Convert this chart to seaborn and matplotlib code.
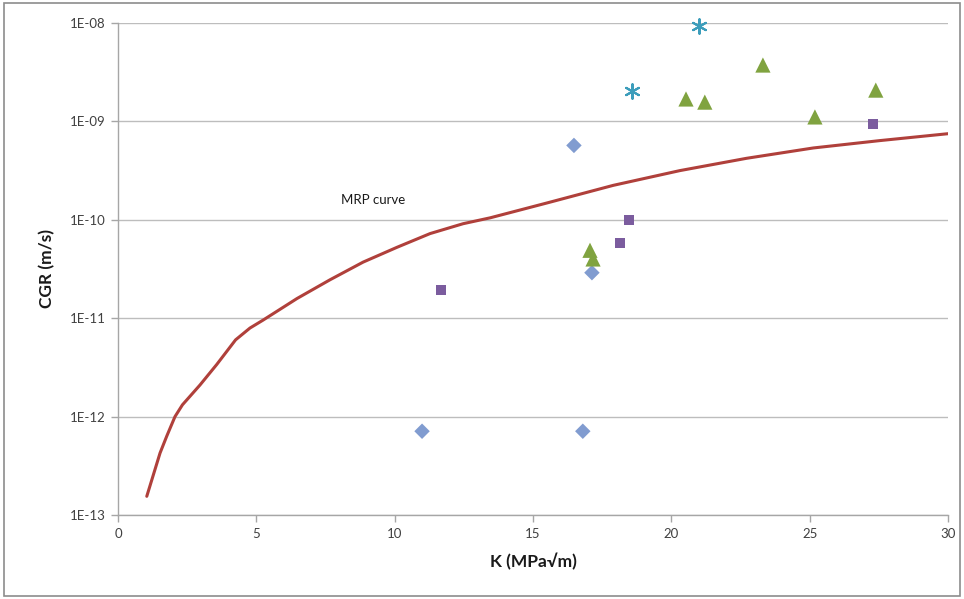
import numpy as np
import pandas as pd
import matplotlib
matplotlib.use("Agg")
import matplotlib.pyplot as plt
import seaborn as sns
from matplotlib.patches import Rectangle
from matplotlib.ticker import FixedLocator, FixedFormatter

# ---- data ----
diamond_k = [16.48, 17.13, 10.99, 16.8]
diamond_cgr = [5.7e-10, 2.9e-11, 7.1e-13, 7.1e-13]

square_k = [11.67, 18.47, 18.14, 27.29]
square_cgr = [1.94e-11, 1.0e-10, 5.8e-11, 9.4e-10]

triangle_k = [20.53, 21.21, 23.31, 25.19, 27.39, 17.06, 17.17]
triangle_cgr = [1.69e-9, 1.57e-9, 3.74e-9, 1.11e-9, 2.08e-9, 4.9e-11, 4.0e-11]

star_k = [21.0, 18.58]
star_cgr = [9.3e-9, 2.04e-9]

curve_k = [1.04, 1.52, 1.76, 2.06, 2.33, 2.96, 3.57, 4.25, 4.77, 5.24, 6.47, 7.66, 8.86, 10.08,
           11.28, 12.47, 13.45, 15.49, 17.90, 20.31, 22.72, 25.13, 27.54, 30.0]
curve_log = [-12.81, -12.37, -12.20, -12.00, -11.88, -11.68, -11.47, -11.22, -11.10, -11.02,
             -10.80, -10.61, -10.43, -10.28, -10.14, -10.04, -9.98, -9.83, -9.65, -9.50,
             -9.375, -9.27, -9.195, -9.125]

ytick_vals = [1e-13, 1e-12, 1e-11, 1e-10, 1e-9, 1e-8]
ytick_labels = ["1E-13", "1E-12", "1E-11", "1E-10", "1E-09", "1E-08"]
xtick_vals = [0, 5, 10, 15, 20, 25, 30]

sns.set_theme(style="white")
plt.rcParams['font.family'] = ['Lato', 'DejaVu Sans']

W, H = 964, 599
fig = plt.figure(figsize=(W / 100, H / 100), dpi=100)
ax = fig.add_axes([118 / W, 1 - 515 / H, (948 - 118) / W, (515 - 23) / H])
ax.set_yscale("log")

curve_df = pd.DataFrame({"K": curve_k, "CGR": np.power(10.0, curve_log)})
sns.lineplot(data=curve_df, x="K", y="CGR", ax=ax, color="#B0403B", lw=2.2, zorder=3)
for ln in ax.lines:
    ln.set_solid_joinstyle("round")
    ln.set_solid_capstyle("round")

sns.scatterplot(x=diamond_k, y=diamond_cgr, ax=ax, marker="D", color="#819CD0", s=62,
                edgecolor="none", zorder=4)
sns.scatterplot(x=square_k, y=square_cgr, ax=ax, marker="s", color="#7B5C9E", s=52,
                edgecolor="none", zorder=4)
sns.scatterplot(x=triangle_k, y=triangle_cgr, ax=ax, marker="^", color="#80A340", s=120,
                edgecolor="none", zorder=4)
ax.scatter(star_k, star_cgr, marker=(6, 2, 0), s=110, color="#3C9DBB", linewidths=1.5,
           zorder=4, clip_on=False)

ax.set_xlim(0, 30)
ax.set_ylim(1e-13, 1e-8)
ax.xaxis.set_major_locator(FixedLocator(xtick_vals))
ax.yaxis.set_major_locator(FixedLocator(ytick_vals))
ax.yaxis.set_major_formatter(FixedFormatter(ytick_labels))
ax.yaxis.set_minor_locator(FixedLocator([]))

ax.grid(axis="y", color="#BDBDBD", lw=1.0)
ax.grid(axis="x", visible=False)
ax.set_axisbelow(True)
for s in ["top", "right"]:
    ax.spines[s].set_visible(False)
for s in ["left", "bottom"]:
    ax.spines[s].set_color("#A6A6A6")
    ax.spines[s].set_linewidth(1.0)
ax.tick_params(axis="both", which="major", direction="out", length=5, width=1,
               color="#A6A6A6", labelsize=9.5, labelcolor="#404040", pad=4, left=True, bottom=True)

ax.set_xlabel("K (MPa\u221am)", fontsize=12.5, fontweight="bold", color="#1a1a1a", labelpad=10)
ax.set_ylabel("CGR (m/s)", fontsize=12.5, fontweight="bold", color="#1a1a1a", labelpad=10)

ax.text(8.05, 1.58e-10, "MRP curve", fontsize=9.5, color="#1a1a1a", va="center", ha="left")

fig.patches.append(Rectangle((4 / W, 3 / H), (960 - 4) / W, (596 - 3) / H, transform=fig.transFigure,
                             fill=False, edgecolor="#8C8C8C", lw=1.2))

fig.savefig("out.png", dpi=100, facecolor="white")
